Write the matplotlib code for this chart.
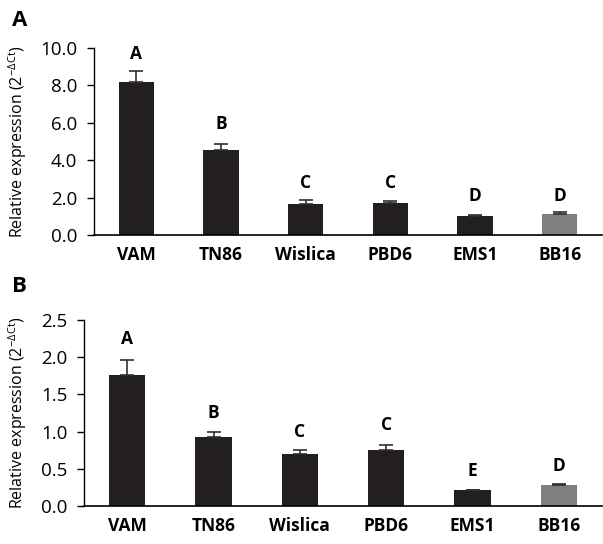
import matplotlib
matplotlib.use("Agg")
import matplotlib.pyplot as plt

plt.rcParams['font.family'] = ['Open Sans', 'DejaVu Sans']
plt.rcParams['mathtext.default'] = 'regular'

lines = ["VAM", "TN86", "Wislica", "PBD6", "EMS1", "BB16"]

# panel A
valsA = [8.2, 4.55, 1.67, 1.73, 1.02, 1.14]
errA = [0.55, 0.33, 0.2, 0.07, 0.05, 0.08]
letA = ["A", "B", "C", "C", "D", "D"]
letA_y = [9.7, 5.95, 2.8, 2.8, 2.1, 2.1]

# panel B
valsB = [1.76, 0.93, 0.70, 0.75, 0.21, 0.28]
errB = [0.20, 0.06, 0.05, 0.07, 0.01, 0.02]
letB = ["A", "B", "C", "C", "E", "D"]
letB_y = [2.25, 1.25, 1.0, 1.09, 0.47, 0.54]

colors = ["#231f20"] * 5 + ["#7f7f7f"]

W, H = 603, 544
fig = plt.figure(figsize=(W / 100, H / 100), dpi=100)

def panel(left, top, bottom, vals, errs, lets, let_y, ymax, step, fmt):
    ax = fig.add_axes([left / W, 1 - bottom / H, (602 - left) / W, (bottom - top) / H])
    x = range(len(lines))
    ax.bar(x, vals, width=0.42, color=colors, zorder=2)
    ax.errorbar(x, vals, yerr=[[0] * len(errs), errs], fmt="none", ecolor="#303030",
                elinewidth=1.2, capsize=5, capthick=1.2, zorder=3)
    for i, t in enumerate(lets):
        ax.text(i, let_y[i], t, ha="center", va="center", fontsize=12.5, fontweight="bold")
    ax.set_xlim(-0.5, len(lines) - 0.5)
    ax.set_ylim(0, ymax)
    ticks = [i * step for i in range(int(round(ymax / step)) + 1)]
    ax.set_yticks(ticks)
    ax.set_yticklabels([fmt % t for t in ticks], fontsize=13.5)
    ax.set_xticks(list(x))
    ax.set_xticklabels(lines, fontsize=12.5, fontweight="bold")
    ax.tick_params(axis="x", length=0, pad=8)
    ax.tick_params(axis="y", length=5, width=1, direction="out", pad=7)
    for s in ["top", "right"]:
        ax.spines[s].set_visible(False)
    ax.spines["left"].set_linewidth(1)
    ax.spines["bottom"].set_linewidth(1.2)
    fig.text(18 / W, 1 - (top + bottom) / 2 / H, r"Relative expression (2$^{-\Delta Ct}$)",
             rotation=90, fontsize=11.5, ha="center", va="center")
    return ax

panel(94, 48, 235, valsA, errA, letA, letA_y, 10.0, 2.0, "%.1f")
panel(84, 320, 506, valsB, errB, letB, letB_y, 2.5, 0.5, "%.1f")

fig.text(12 / W, 1 - 20 / H, "A", fontsize=16, fontweight="bold", va="center")
fig.text(12 / W, 1 - 287 / H, "B", fontsize=16, fontweight="bold", va="center")

fig.savefig("out.png", dpi=100)
